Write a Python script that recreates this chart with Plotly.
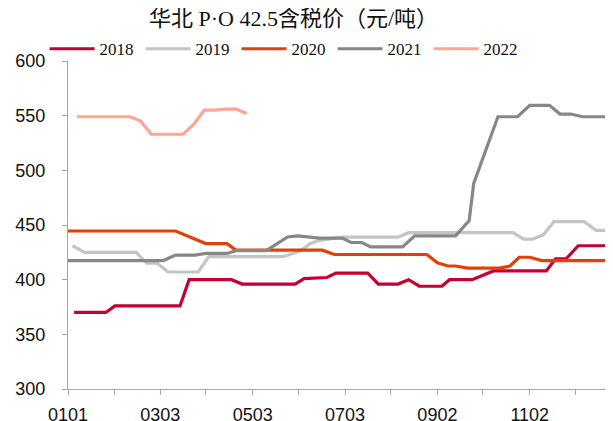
import datetime
import plotly.graph_objects as go

# ---- data (x = day of year, 0 = Jan 1) ----
days_2018 = [4, 25, 31, 74, 80, 108, 115, 150, 156, 171, 177, 198, 205, 218, 225, 232, 247, 252, 267, 281, 316, 322, 329, 337, 358]
vals_2018 = [370, 370, 376, 376, 400, 400, 396, 396, 401, 402, 406, 406, 396, 396, 400, 394, 394, 400, 400, 408, 408, 419, 419, 431, 431]

days_2019 = [3, 11, 45, 52, 59, 66, 86, 93, 142, 153, 160, 166, 182, 218, 225, 294, 301, 307, 314, 321, 341, 349, 356]
vals_2019 = [431, 425, 425, 415, 415, 407, 407, 421, 421, 426, 433, 436, 439, 439, 443, 443, 437, 437, 441, 453, 453, 445, 445]

days_2020 = [0, 71, 91, 105, 111, 168, 176, 237, 244, 251, 256, 264, 285, 292, 298, 305, 313, 355]
vals_2020 = [444.5, 444.5, 433, 433, 427, 427, 423, 423, 415.5, 412.5, 412.5, 410.5, 410.5, 412.5, 420.5, 420.5, 417.5, 417.5]

days_2021 = [0, 63, 71, 84, 91, 105, 111, 131, 145, 152, 166, 181, 187, 194, 200, 221, 229, 256, 265, 268, 284, 297, 305, 318, 325, 332, 340, 360]
vals_2021 = [417.5, 417.5, 422.5, 422.5, 424, 424, 426.5, 426.5, 439, 440, 438, 438, 434, 434, 430, 430, 440, 440, 454, 488, 549, 549, 559.5, 559.5, 551.5, 551.5, 549, 549]

days_2022 = [6, 13, 20, 27, 34, 41, 48, 55, 62, 69, 76, 83, 90, 97, 104, 111, 118]
vals_2022 = [549, 549, 549, 549, 549, 549, 545, 533, 533, 533, 533, 542, 555, 555, 556, 556, 552]

series_names = ["2018", "2019", "2020", "2021", "2022"]
series_colors = ["#C40032", "#C4C4C4", "#E2400A", "#878787", "#FFA693"]

tick_dates = ["0101", "0201", "0303", "0402", "0503", "0602", "0703", "0802", "0902", "1002", "1102", "1202"]
title_text = "华北 P·O 42.5含税价（元/吨）"


def doy(mmdd):
    d = datetime.date(2021, int(mmdd[:2]), int(mmdd[2:]))
    return (d - datetime.date(2021, 1, 1)).days


tick_vals = [doy(t) for t in tick_dates]
tick_text = [t if i % 2 == 0 else "" for i, t in enumerate(tick_dates)]

all_days = [days_2018, days_2019, days_2020, days_2021, days_2022]
all_vals = [vals_2018, vals_2019, vals_2020, vals_2021, vals_2022]

fig = go.Figure()
for name, color, xs, ys in zip(series_names, series_colors, all_days, all_vals):
    fig.add_trace(go.Scatter(x=xs, y=ys, mode="lines", name=name,
                             line=dict(color=color, width=3.2)))

# page body has an 8px default margin, so the figure is 8px smaller
W, H = 605, 413
fig.update_layout(
    width=W, height=H,
    margin=dict(l=60, r=0, t=53, b=32, autoexpand=False),
    paper_bgcolor="white", plot_bgcolor="white",
    title=dict(text=title_text, x=0.472, xanchor="center", y=1 - 10 / H, yanchor="middle",
               font=dict(family="Liberation Serif, Noto Sans CJK SC", size=22, color="#111111")),
    legend=dict(orientation="h", x=-0.043, xanchor="left", y=1.036, yanchor="middle",
                font=dict(family="Liberation Serif", size=17, color="#111111"),
                entrywidth=36, entrywidthmode="pixels", itemwidth=45,
                bgcolor="rgba(0,0,0,0)", tracegroupgap=0),
    xaxis=dict(range=[0, 360], tickmode="array", tickvals=tick_vals, ticktext=tick_text,
               showgrid=False, zeroline=False, showline=True, linecolor="#A6A6A6", linewidth=1.3,
               ticks="outside", ticklen=5, tickcolor="#A6A6A6", tickwidth=1.3,
               ticklabelstandoff=4,
               tickfont=dict(family="Liberation Sans", size=18, color="#111111")),
    yaxis=dict(range=[300, 600], tickmode="array", tickvals=[300, 350, 400, 450, 500, 550, 600],
               showgrid=False, zeroline=False, showline=True, linecolor="#A6A6A6", linewidth=1.3,
               ticks="outside", ticklen=5, tickcolor="#A6A6A6", tickwidth=1.3,
               ticklabelstandoff=13,
               tickfont=dict(family="Liberation Sans", size=18, color="#111111")),
)

fig.write_html("out.html")
